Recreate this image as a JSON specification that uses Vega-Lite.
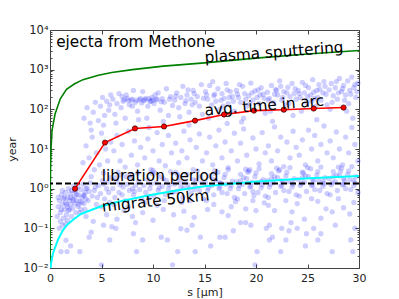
{
"$schema":"https://vega.github.io/schema/vega-lite/v6.json",
"width":309,"height":238,
"autosize":{"type":"none"},
"padding":{"left":50,"top":30,"right":40,"bottom":31},
"config":{"view":{"stroke":"#444","strokeWidth":1},"axis":{"labelFont":"DejaVu Sans","titleFont":"DejaVu Sans","labelFontSize":11,"titleFontSize":11,"labelColor":"#222","titleColor":"#222","titleFontWeight":"normal","grid":false,"domain":false,"tickColor":"#444"},"text":{"font":"DejaVu Sans","fontSize":15.3,"color":"#000"}},
"datasets":{
"pts":[
{"s":0.8,"t":0.35},{"s":0.9,"t":0.5},{"s":1.0,"t":0.25},{"s":1.1,"t":0.7},{"s":1.2,"t":0.4},{"s":1.3,"t":0.18},{"s":1.3,"t":0.55},{"s":1.4,"t":0.3},{"s":1.5,"t":0.8},{"s":1.5,"t":0.45},{"s":1.6,"t":0.22},{"s":1.7,"t":0.6},{"s":1.7,"t":0.35},{"s":1.8,"t":1.0},{"s":1.8,"t":0.28},{"s":1.9,"t":0.5},{"s":2.0,"t":0.75},{"s":2.0,"t":0.4},{"s":2.1,"t":0.2},{"s":2.1,"t":0.9},{"s":2.2,"t":0.55},{"s":2.2,"t":0.32},{"s":2.3,"t":1.2},{"s":2.4,"t":0.65},{"s":2.4,"t":0.42},{"s":2.5,"t":0.25},{"s":2.5,"t":0.85},{"s":2.6,"t":0.5},{"s":2.7,"t":1.1},{"s":2.7,"t":0.36},{"s":2.8,"t":0.7},{"s":2.9,"t":0.48},{"s":3.0,"t":0.95},{"s":3.0,"t":0.3},{"s":3.1,"t":0.6},{"s":3.2,"t":1.3},{"s":3.3,"t":0.42},{"s":3.4,"t":0.8},{"s":3.5,"t":0.55},{"s":3.6,"t":1.05},{"s":1.0,"t":0.15},{"s":1.2,"t":0.12},{"s":0.9,"t":0.1},{"s":1.5,"t":0.13},
{"s":0.7,"t":0.2},{"s":1.1,"t":0.3},{"s":1.4,"t":0.6},{"s":1.6,"t":0.4},{"s":1.9,"t":0.3},{"s":2.3,"t":0.5},{"s":2.6,"t":0.7},{"s":2.8,"t":0.4},{"s":1.2,"t":0.9},{"s":2.0,"t":0.6},{"s":2.4,"t":0.9},{"s":1.7,"t":0.16},{"s":2.9,"t":0.25},{"s":3.3,"t":0.65},{"s":0.8,"t":0.6},
{"s":1.07,"t":0.026},{"s":1.65,"t":0.026},{"s":2.9,"t":0.026},{"s":8.4,"t":0.026},{"s":5.0,"t":0.012},{"s":11.9,"t":0.012},{"s":12.4,"t":0.026},{"s":14.1,"t":0.026},{"s":9.0,"t":0.051},{"s":10.8,"t":0.06},{"s":11.4,"t":0.051},{"s":14.6,"t":0.06},{"s":8.1,"t":0.073},{"s":5.8,"t":0.051},{"s":5.2,"t":0.12},{"s":3.8,"t":0.06},{"s":2.0,"t":0.036},{"s":1.55,"t":0.05},{"s":8.3,"t":0.14},{"s":12.7,"t":0.098},{"s":15.6,"t":0.036},{"s":16.5,"t":0.06},{"s":17.0,"t":0.06},{"s":17.8,"t":0.087},{"s":19.5,"t":0.12},{"s":20.1,"t":0.026},{"s":19.9,"t":0.012},{"s":21.0,"t":0.1},{"s":21.3,"t":0.12},{"s":21.3,"t":0.051},{"s":21.6,"t":0.06},{"s":22.4,"t":0.026},{"s":22.5,"t":0.1},{"s":22.9,"t":0.051},{"s":23.2,"t":0.087},{"s":24.0,"t":0.1},{"s":24.9,"t":0.073},{"s":24.8,"t":0.036},{"s":25.6,"t":0.1},{"s":26.0,"t":0.051},{"s":26.3,"t":0.073},{"s":27.4,"t":0.026},{"s":27.7,"t":0.12},{"s":29.2,"t":0.051},{"s":29.4,"t":0.026},{"s":29.6,"t":0.1},{"s":18.5,"t":0.14},{"s":19.0,"t":0.14},{"s":6.0,"t":0.11},{"s":6.4,"t":0.1},{"s":4.0,"t":0.08},{"s":13.3,"t":0.09},{"s":13.8,"t":0.12},
{"s":15.3,"t":0.3},{"s":16.7,"t":0.26},{"s":17.3,"t":0.21},{"s":18.0,"t":0.47},{"s":19.0,"t":0.31},{"s":19.7,"t":0.5},{"s":20.0,"t":0.28},{"s":21.8,"t":0.28},{"s":20.8,"t":0.44},{"s":22.9,"t":0.5},{"s":24.7,"t":0.17},{"s":23.5,"t":0.26},{"s":26.3,"t":0.18},{"s":26.8,"t":0.31},{"s":27.4,"t":0.26},{"s":28.0,"t":0.56},{"s":28.5,"t":0.33},{"s":29.1,"t":0.23},{"s":23.4,"t":0.14},{"s":25.4,"t":0.56},{"s":19.8,"t":0.67},{"s":3.5,"t":0.2},{"s":4.2,"t":0.15},{"s":5.5,"t":0.22},{"s":6.5,"t":0.17},{"s":7.2,"t":0.28},{"s":8.0,"t":0.2},{"s":9.0,"t":0.25},{"s":10.0,"t":0.16},{"s":11.0,"t":0.3},{"s":12.0,"t":0.22},{"s":13.0,"t":0.27},{"s":14.0,"t":0.19},{"s":15.9,"t":0.4},{"s":17.6,"t":0.35},{"s":21.2,"t":0.38},{"s":24.0,"t":0.42},{"s":26.0,"t":0.48},{"s":29.5,"t":0.45},
{"s":3.3,"t":60},{"s":3.6,"t":110},{"s":3.9,"t":45},{"s":4.2,"t":85},{"s":4.4,"t":150},{"s":4.7,"t":52},{"s":4.9,"t":120},{"s":5.1,"t":200},{"s":5.3,"t":70},{"s":5.5,"t":160},{"s":5.7,"t":95},{"s":5.9,"t":230},{"s":5.2,"t":40},{"s":4.0,"t":30},{"s":5.8,"t":130},
{"s":6.1,"t":180},{"s":6.3,"t":75},{"s":6.5,"t":140},{"s":6.7,"t":250},{"s":6.9,"t":110},{"s":7.1,"t":160},{"s":7.3,"t":60},{"s":7.5,"t":190},{"s":7.7,"t":130},{"s":7.9,"t":170},{"s":8.1,"t":300},{"s":8.3,"t":150},{"s":8.5,"t":90},{"s":8.7,"t":175},{"s":8.9,"t":145},{"s":6.4,"t":45},{"s":7.0,"t":210},{"s":8.0,"t":120},{"s":8.6,"t":55},{"s":7.4,"t":230},
{"s":7.6,"t":165},{"s":8.0,"t":180},{"s":8.4,"t":170},{"s":8.8,"t":190},{"s":9.2,"t":175},{"s":9.6,"t":185},{"s":10.0,"t":170},{"s":10.4,"t":180},{"s":7.2,"t":175},{"s":9.8,"t":160},
{"s":9.1,"t":165},{"s":9.3,"t":190},{"s":9.5,"t":120},{"s":9.7,"t":160},{"s":9.9,"t":200},{"s":10.1,"t":140},{"s":10.3,"t":175},{"s":10.5,"t":260},{"s":10.7,"t":95},{"s":10.9,"t":185},{"s":11.1,"t":150},{"s":11.3,"t":330},{"s":11.5,"t":70},{"s":11.7,"t":210},{"s":11.9,"t":125},{"s":9.4,"t":60},{"s":10.2,"t":230},{"s":10.8,"t":155},{"s":11.6,"t":180},{"s":9.0,"t":280},{"s":11.0,"t":50},
{"s":12.1,"t":170},{"s":12.3,"t":260},{"s":12.5,"t":110},{"s":12.7,"t":200},{"s":12.9,"t":380},{"s":13.1,"t":140},{"s":13.3,"t":230},{"s":13.5,"t":85},{"s":13.7,"t":180},{"s":13.9,"t":300},{"s":14.1,"t":150},{"s":14.3,"t":210},{"s":14.5,"t":120},{"s":14.7,"t":420},{"s":14.9,"t":190},{"s":12.6,"t":65},{"s":13.2,"t":165},{"s":14.0,"t":250},{"s":14.8,"t":75},{"s":13.8,"t":130},{"s":12.2,"t":215},{"s":13.4,"t":310},
{"s":15.1,"t":280},{"s":15.3,"t":180},{"s":15.5,"t":400},{"s":15.7,"t":130},{"s":15.9,"t":220},{"s":16.1,"t":160},{"s":16.3,"t":330},{"s":16.5,"t":100},{"s":16.7,"t":250},{"s":16.9,"t":190},{"s":17.1,"t":450},{"s":17.3,"t":140},{"s":17.5,"t":280},{"s":17.7,"t":210},{"s":17.9,"t":90},{"s":15.4,"t":60},{"s":16.0,"t":240},{"s":16.6,"t":170},{"s":17.2,"t":310},{"s":17.8,"t":160},{"s":15.8,"t":500},{"s":16.8,"t":120},{"s":15.2,"t":230},{"s":17.4,"t":200},
{"s":18.1,"t":300},{"s":18.3,"t":200},{"s":18.5,"t":150},{"s":18.7,"t":380},{"s":18.9,"t":250},{"s":19.1,"t":120},{"s":19.3,"t":220},{"s":19.5,"t":460},{"s":19.7,"t":170},{"s":19.9,"t":290},{"s":20.1,"t":200},{"s":20.3,"t":140},{"s":20.5,"t":350},{"s":20.7,"t":240},{"s":20.9,"t":80},{"s":18.4,"t":420},{"s":19.0,"t":180},{"s":19.6,"t":260},{"s":20.2,"t":310},{"s":20.8,"t":190},{"s":18.8,"t":60},{"s":19.4,"t":140},{"s":20.4,"t":230},{"s":18.2,"t":240},
{"s":21.1,"t":270},{"s":21.3,"t":190},{"s":21.5,"t":400},{"s":21.7,"t":150},{"s":21.9,"t":320},{"s":22.1,"t":230},{"s":22.3,"t":520},{"s":22.5,"t":170},{"s":22.7,"t":280},{"s":22.9,"t":130},{"s":23.1,"t":360},{"s":23.3,"t":210},{"s":23.5,"t":450},{"s":23.7,"t":250},{"s":23.9,"t":180},{"s":21.4,"t":90},{"s":22.0,"t":300},{"s":22.6,"t":200},{"s":23.2,"t":140},{"s":23.8,"t":330},{"s":21.8,"t":240},{"s":22.4,"t":380},{"s":23.0,"t":260},{"s":21.2,"t":170},{"s":23.6,"t":70},
{"s":24.1,"t":300},{"s":24.3,"t":200},{"s":24.5,"t":480},{"s":24.7,"t":260},{"s":24.9,"t":150},{"s":25.1,"t":350},{"s":25.3,"t":230},{"s":25.5,"t":560},{"s":25.7,"t":190},{"s":25.9,"t":300},{"s":26.1,"t":420},{"s":26.3,"t":170},{"s":26.5,"t":260},{"s":26.7,"t":380},{"s":26.9,"t":130},{"s":24.4,"t":90},{"s":25.0,"t":210},{"s":25.6,"t":270},{"s":26.2,"t":320},{"s":26.8,"t":240},{"s":24.8,"t":400},{"s":25.4,"t":160},{"s":26.0,"t":200},{"s":26.6,"t":500},{"s":24.2,"t":250},{"s":25.8,"t":120},
{"s":27.1,"t":310},{"s":27.3,"t":450},{"s":27.5,"t":220},{"s":27.7,"t":350},{"s":27.9,"t":180},{"s":28.1,"t":600},{"s":28.3,"t":280},{"s":28.5,"t":400},{"s":28.7,"t":230},{"s":28.9,"t":520},{"s":29.1,"t":300},{"s":29.3,"t":650},{"s":29.5,"t":350},{"s":29.7,"t":200},{"s":29.9,"t":460},{"s":27.4,"t":150},{"s":28.0,"t":260},{"s":28.6,"t":170},{"s":29.2,"t":240},{"s":29.8,"t":280},{"s":27.8,"t":500},{"s":28.4,"t":330},{"s":29.0,"t":140},{"s":29.6,"t":420},{"s":27.2,"t":100},{"s":28.8,"t":90},
{"s":3.5,"t":12},{"s":3.8,"t":6},{"s":4.1,"t":20},{"s":4.5,"t":8},{"s":4.8,"t":4},{"s":5.0,"t":25},{"s":5.4,"t":10},{"s":5.6,"t":5},{"s":5.9,"t":15},{"s":3.2,"t":4.5},{"s":4.3,"t":3},{"s":5.2,"t":2.5},
{"s":6.2,"t":9},{"s":6.5,"t":22},{"s":6.8,"t":5},{"s":7.0,"t":13},{"s":7.3,"t":3.5},{"s":7.6,"t":28},{"s":7.9,"t":7},{"s":8.2,"t":16},{"s":8.5,"t":4},{"s":8.8,"t":11},{"s":6.6,"t":2.6},{"s":7.8,"t":2.2},
{"s":9.2,"t":6},{"s":9.5,"t":18},{"s":9.8,"t":3},{"s":10.0,"t":9},{"s":10.4,"t":26},{"s":10.6,"t":5},{"s":10.9,"t":13},{"s":11.2,"t":3.8},{"s":11.5,"t":22},{"s":11.8,"t":8},{"s":9.6,"t":35},{"s":10.2,"t":2.5},
{"s":12.2,"t":14},{"s":12.5,"t":4.5},{"s":12.8,"t":9},{"s":13.0,"t":28},{"s":13.3,"t":6},{"s":13.6,"t":17},{"s":13.9,"t":3},{"s":14.2,"t":11},{"s":14.5,"t":24},{"s":14.8,"t":5},{"s":12.4,"t":2.3},{"s":13.5,"t":40},
{"s":15.2,"t":8},{"s":15.5,"t":20},{"s":15.8,"t":4},{"s":16.1,"t":12},{"s":16.4,"t":30},{"s":16.7,"t":6},{"s":17.0,"t":15},{"s":17.3,"t":3.4},{"s":17.6,"t":9},{"s":17.9,"t":25},{"s":16.0,"t":2.4},{"s":17.2,"t":44},
{"s":18.2,"t":5},{"s":18.5,"t":14},{"s":18.8,"t":32},{"s":19.1,"t":7},{"s":19.4,"t":3},{"s":19.7,"t":19},{"s":20.0,"t":10},{"s":20.3,"t":4.2},{"s":20.6,"t":26},{"s":20.9,"t":8},{"s":19.2,"t":2.6},{"s":18.6,"t":48},
{"s":21.2,"t":12},{"s":21.5,"t":5},{"s":21.8,"t":36},{"s":22.1,"t":9},{"s":22.4,"t":20},{"s":22.7,"t":3.6},{"s":23.0,"t":15},{"s":23.3,"t":6},{"s":23.6,"t":28},{"s":23.9,"t":11},{"s":22.2,"t":2.8},{"s":21.6,"t":50},
{"s":24.2,"t":7},{"s":24.5,"t":17},{"s":24.8,"t":4},{"s":25.1,"t":30},{"s":25.4,"t":10},{"s":25.7,"t":22},{"s":26.0,"t":5},{"s":26.3,"t":13},{"s":26.6,"t":38},{"s":26.9,"t":8},{"s":24.6,"t":2.5},{"s":25.9,"t":55},
{"s":27.2,"t":16},{"s":27.5,"t":6},{"s":27.8,"t":27},{"s":28.1,"t":10},{"s":28.4,"t":4},{"s":28.7,"t":20},{"s":29.0,"t":8},{"s":29.3,"t":35},{"s":29.6,"t":13},{"s":29.9,"t":5},{"s":28.2,"t":2.7},{"s":29.4,"t":60},
{"s":3.1,"t":0.45},{"s":3.3,"t":0.7},{"s":3.5,"t":1.0},{"s":3.7,"t":0.5},{"s":3.9,"t":1.4},{"s":4.1,"t":0.65},{"s":4.3,"t":0.9},{"s":4.5,"t":0.4},{"s":4.7,"t":1.2},{"s":4.9,"t":0.75},{"s":5.1,"t":1.6},{"s":5.3,"t":0.55},{"s":5.5,"t":1.0},{"s":5.7,"t":0.8},{"s":5.9,"t":1.9},{"s":3.4,"t":0.3},{"s":4.0,"t":2.0},{"s":4.6,"t":0.6},{"s":5.2,"t":1.3},{"s":5.8,"t":0.45},{"s":3.8,"t":0.85},{"s":4.4,"t":1.1},{"s":5.0,"t":0.35},{"s":5.6,"t":1.45},
{"s":6.1,"t":1.0},{"s":6.3,"t":0.6},{"s":6.5,"t":1.5},{"s":6.7,"t":0.8},{"s":6.9,"t":2.2},{"s":7.1,"t":1.1},{"s":7.3,"t":0.5},{"s":7.5,"t":1.3},{"s":7.7,"t":0.9},{"s":7.9,"t":1.8},{"s":8.1,"t":0.7},{"s":8.3,"t":1.2},{"s":8.5,"t":2.5},{"s":8.7,"t":0.95},{"s":8.9,"t":0.55},{"s":6.2,"t":0.4},{"s":6.8,"t":1.25},{"s":7.4,"t":2.0},{"s":8.0,"t":1.0},{"s":8.6,"t":1.5},{"s":7.0,"t":0.7},{"s":7.6,"t":0.35},{"s":8.2,"t":0.85},{"s":6.4,"t":1.9},
{"s":9.1,"t":1.2},{"s":9.3,"t":0.8},{"s":9.5,"t":1.7},{"s":9.7,"t":1.0},{"s":9.9,"t":2.4},{"s":10.1,"t":0.65},{"s":10.3,"t":1.4},{"s":10.5,"t":0.9},{"s":10.7,"t":2.0},{"s":10.9,"t":1.15},{"s":11.1,"t":0.5},{"s":11.3,"t":1.6},{"s":11.5,"t":1.0},{"s":11.7,"t":2.7},{"s":11.9,"t":0.8},{"s":9.2,"t":0.45},{"s":9.8,"t":1.3},{"s":10.4,"t":0.38},{"s":11.0,"t":1.8},{"s":11.6,"t":1.25},{"s":10.0,"t":2.9},{"s":10.6,"t":1.05},{"s":11.2,"t":0.7},{"s":9.6,"t":0.6},
{"s":12.1,"t":1.3},{"s":12.3,"t":0.85},{"s":12.5,"t":1.9},{"s":12.7,"t":1.1},{"s":12.9,"t":0.6},{"s":13.1,"t":1.5},{"s":13.3,"t":2.3},{"s":13.5,"t":1.0},{"s":13.7,"t":0.75},{"s":13.9,"t":1.7},{"s":14.1,"t":1.2},{"s":14.3,"t":2.8},{"s":14.5,"t":0.9},{"s":14.7,"t":1.4},{"s":14.9,"t":0.55},{"s":12.2,"t":2.6},{"s":12.8,"t":0.45},{"s":13.4,"t":1.25},{"s":14.0,"t":0.95},{"s":14.6,"t":2.0},{"s":13.0,"t":1.05},{"s":13.6,"t":0.5},{"s":14.2,"t":1.6},{"s":12.6,"t":1.45},
{"s":15.1,"t":1.4},{"s":15.3,"t":0.9},{"s":15.5,"t":2.1},{"s":15.7,"t":1.2},{"s":15.9,"t":0.7},{"s":16.1,"t":1.6},{"s":16.3,"t":2.6},{"s":16.5,"t":1.1},{"s":16.7,"t":0.8},{"s":16.9,"t":1.9},{"s":17.1,"t":1.3},{"s":17.3,"t":3.0},{"s":17.5,"t":1.0},{"s":17.7,"t":1.55},{"s":17.9,"t":0.6},{"s":15.2,"t":0.5},{"s":15.8,"t":1.75},{"s":16.4,"t":1.0},{"s":17.0,"t":2.3},{"s":17.6,"t":1.2},{"s":16.0,"t":2.9},{"s":16.6,"t":1.35},{"s":17.2,"t":0.75},{"s":15.4,"t":1.05},
{"s":18.1,"t":1.5},{"s":18.3,"t":1.0},{"s":18.5,"t":2.3},{"s":18.7,"t":1.3},{"s":18.9,"t":0.75},{"s":19.1,"t":1.8},{"s":19.3,"t":2.8},{"s":19.5,"t":1.15},{"s":19.7,"t":0.85},{"s":19.9,"t":2.0},{"s":20.1,"t":1.4},{"s":20.3,"t":3.2},{"s":20.5,"t":1.05},{"s":20.7,"t":1.7},{"s":20.9,"t":0.65},{"s":18.2,"t":0.55},{"s":18.8,"t":1.9},{"s":19.4,"t":1.1},{"s":20.0,"t":2.5},{"s":20.6,"t":1.25},{"s":19.0,"t":3.1},{"s":19.6,"t":1.45},{"s":20.2,"t":0.8},{"s":18.4,"t":1.2},
{"s":21.1,"t":1.6},{"s":21.3,"t":1.1},{"s":21.5,"t":2.4},{"s":21.7,"t":1.4},{"s":21.9,"t":0.8},{"s":22.1,"t":1.9},{"s":22.3,"t":3.0},{"s":22.5,"t":1.2},{"s":22.7,"t":0.9},{"s":22.9,"t":2.1},{"s":23.1,"t":1.5},{"s":23.3,"t":3.4},{"s":23.5,"t":1.1},{"s":23.7,"t":1.8},{"s":23.9,"t":0.7},{"s":21.2,"t":0.6},{"s":21.8,"t":2.0},{"s":22.4,"t":1.15},{"s":23.0,"t":2.6},{"s":23.6,"t":1.3},{"s":22.0,"t":3.3},{"s":22.6,"t":1.5},{"s":23.2,"t":0.85},{"s":21.4,"t":1.3},
{"s":24.1,"t":1.7},{"s":24.3,"t":1.2},{"s":24.5,"t":2.6},{"s":24.7,"t":1.45},{"s":24.9,"t":0.85},{"s":25.1,"t":2.0},{"s":25.3,"t":3.2},{"s":25.5,"t":1.25},{"s":25.7,"t":0.95},{"s":25.9,"t":2.2},{"s":26.1,"t":1.6},{"s":26.3,"t":3.5},{"s":26.5,"t":1.15},{"s":26.7,"t":1.9},{"s":26.9,"t":0.75},{"s":24.2,"t":0.65},{"s":24.8,"t":2.1},{"s":25.4,"t":1.2},{"s":26.0,"t":2.7},{"s":26.6,"t":1.35},{"s":25.0,"t":3.4},{"s":25.6,"t":1.55},{"s":26.2,"t":0.9},{"s":24.4,"t":1.35},
{"s":27.1,"t":1.8},{"s":27.3,"t":1.25},{"s":27.5,"t":2.7},{"s":27.7,"t":1.5},{"s":27.9,"t":0.9},{"s":28.1,"t":2.1},{"s":28.3,"t":3.3},{"s":28.5,"t":1.3},{"s":28.7,"t":1.0},{"s":28.9,"t":2.3},{"s":29.1,"t":1.7},{"s":29.3,"t":3.6},{"s":29.5,"t":1.2},{"s":29.7,"t":2.0},{"s":29.9,"t":0.8},{"s":27.2,"t":0.7},{"s":27.8,"t":2.2},{"s":28.4,"t":1.25},{"s":29.0,"t":2.8},{"s":29.6,"t":1.4},{"s":28.0,"t":3.5},{"s":28.6,"t":1.6},{"s":29.2,"t":0.95},{"s":27.4,"t":1.4},
{"s":20.5,"t":1.5},{"s":21.5,"t":1.8},{"s":22.5,"t":1.6},{"s":23.5,"t":1.4},{"s":24.5,"t":1.9},{"s":25.5,"t":1.7},{"s":26.5,"t":1.5},{"s":27.5,"t":2.0},{"s":28.5,"t":1.8},{"s":29.5,"t":1.6},{"s":16.5,"t":1.4},{"s":18.5,"t":1.6}
],
"green":[{"s":0.005,"t":0.01},{"s":0.02,"t":0.5},{"s":0.05,"t":3},{"s":0.1,"t":10},{"s":0.2,"t":30},{"s":0.5,"t":78},{"s":1,"t":185},{"s":1.6,"t":320},{"s":2.4,"t":440},{"s":3.2,"t":560},{"s":4.7,"t":720},{"s":6,"t":850},{"s":8,"t":1000},{"s":11,"t":1230},{"s":15,"t":1480},{"s":20,"t":1950},{"s":25,"t":2480},{"s":30,"t":3050}],
"cyan":[{"s":0.05,"t":0.01},{"s":0.1,"t":0.013},{"s":0.3,"t":0.024},{"s":0.78,"t":0.052},{"s":1.26,"t":0.09},{"s":1.7,"t":0.125},{"s":2.3,"t":0.17},{"s":3,"t":0.23},{"s":4.7,"t":0.34},{"s":6.3,"t":0.45},{"s":9.5,"t":0.67},{"s":12.7,"t":0.94},{"s":15,"t":1.15},{"s":19.8,"t":1.5},{"s":24.7,"t":1.8},{"s":30,"t":2.1}],
"red":[{"s":2.43,"t":1.0},{"s":5.34,"t":14.5},{"s":8.25,"t":33},{"s":11.07,"t":37},{"s":14.08,"t":52},{"s":16.9,"t":74},{"s":19.8,"t":93},{"s":22.7,"t":98},{"s":25.6,"t":105},{"s":28.5,"t":111}]
},
"resolve":{"axis":{"x":"independent","y":"independent"}},
"layer":[
{"data":{"name":"pts"},"mark":{"type":"circle","color":"#0000ff","opacity":0.19,"size":28},
"encoding":{
"x":{"field":"s","type":"quantitative","scale":{"domain":[0,30],"nice":false,"zero":false},"axis":{"orient":"bottom","values":[0,5,10,15,20,25,30],"tickSize":-4,"labelPadding":8,"title":"s [μm]","titlePadding":3,"labelFlush":false}},
"y":{"field":"t","type":"quantitative","scale":{"type":"log","domain":[0.01,10000],"nice":false},"axis":{"orient":"left","values":[0.01,0.1,1,10,100,1000,10000],"tickSize":-4,"labelPadding":6,"labelFontSize":11.5,"title":"year","titlePadding":5,"labelFlush":false,"labelExpr":"datum.value==0.01?'10⁻²':datum.value==0.1?'10⁻¹':datum.value==1?'10⁰':datum.value==10?'10¹':datum.value==100?'10²':datum.value==1000?'10³':'10⁴'"}}}},
{"data":{"name":"green"},"mark":{"type":"line","color":"#008000","strokeWidth":1.6,"clip":true},
"encoding":{
"x":{"field":"s","type":"quantitative","scale":{"domain":[0,30],"nice":false,"zero":false},"axis":{"orient":"top","values":[0,5,10,15,20,25,30],"tickSize":-4,"labels":false,"title":null}},
"y":{"field":"t","type":"quantitative","scale":{"type":"log","domain":[0.01,10000],"nice":false},"axis":{"orient":"right","values":[0.01,0.1,1,10,100,1000,10000],"tickSize":-4,"labels":false,"title":null}}}},
{"data":{"name":"cyan"},"mark":{"type":"line","color":"#00ffff","strokeWidth":2,"clip":true},
"encoding":{
"x":{"field":"s","type":"quantitative","scale":{"domain":[0,30],"nice":false,"zero":false},"axis":null},
"y":{"field":"t","type":"quantitative","scale":{"type":"log","domain":[0.01,10000],"nice":false},"axis":{"orient":"left","values":[0.02,0.03,0.04,0.05,0.06,0.07,0.08,0.09,0.2,0.3,0.4,0.5,0.6,0.7,0.8,0.9,2,3,4,5,6,7,8,9,20,30,40,50,60,70,80,90,200,300,400,500,600,700,800,900,2000,3000,4000,5000,6000,7000,8000,9000],"tickSize":-2,"labels":false,"title":null}}}},
{"data":{"values":[{"t":1.34}]},"mark":{"type":"rule","color":"#000","strokeWidth":2,"strokeDash":[6,3]},
"encoding":{
"y":{"field":"t","type":"quantitative","scale":{"type":"log","domain":[0.01,10000],"nice":false},"axis":{"orient":"right","values":[0.02,0.03,0.04,0.05,0.06,0.07,0.08,0.09,0.2,0.3,0.4,0.5,0.6,0.7,0.8,0.9,2,3,4,5,6,7,8,9,20,30,40,50,60,70,80,90,200,300,400,500,600,700,800,900,2000,3000,4000,5000,6000,7000,8000,9000],"tickSize":-2,"labels":false,"title":null}}}},
{"data":{"name":"red"},"mark":{"type":"line","color":"#ff0000","strokeWidth":1.6},
"encoding":{
"x":{"field":"s","type":"quantitative","scale":{"domain":[0,30],"nice":false,"zero":false},"axis":null},
"y":{"field":"t","type":"quantitative","scale":{"type":"log","domain":[0.01,10000],"nice":false},"axis":null}}},
{"data":{"name":"red"},"mark":{"type":"point","shape":"circle","filled":true,"color":"#ff0000","stroke":"#000","strokeWidth":0.6,"size":28,"opacity":1},
"encoding":{
"x":{"field":"s","type":"quantitative","scale":{"domain":[0,30],"nice":false,"zero":false},"axis":null},
"y":{"field":"t","type":"quantitative","scale":{"type":"log","domain":[0.01,10000],"nice":false},"axis":null}}},
{"data":{"values":[{"s":0.6,"t":3630,"label":"ejecta from Methone"}]},"mark":{"type":"text","align":"left","baseline":"alphabetic"},
"encoding":{"x":{"field":"s","type":"quantitative","axis":null},"y":{"field":"t","type":"quantitative","scale":{"type":"log"},"axis":null},"text":{"field":"label"}}},
{"data":{"values":[{"s":15.05,"t":1515,"label":"plasma sputtering"}]},"mark":{"type":"text","align":"left","baseline":"alphabetic","angle":-4.3},
"encoding":{"x":{"field":"s","type":"quantitative","axis":null},"y":{"field":"t","type":"quantitative","scale":{"type":"log"},"axis":null},"text":{"field":"label"}}},
{"data":{"values":[{"s":15.05,"t":70,"label":"avg. time in arc"}]},"mark":{"type":"text","align":"left","baseline":"alphabetic","angle":-4.8},
"encoding":{"x":{"field":"s","type":"quantitative","axis":null},"y":{"field":"t","type":"quantitative","scale":{"type":"log"},"axis":null},"text":{"field":"label"}}},
{"data":{"values":[{"s":5.02,"t":1.6,"label":"libration period"}]},"mark":{"type":"text","align":"left","baseline":"alphabetic"},
"encoding":{"x":{"field":"s","type":"quantitative","axis":null},"y":{"field":"t","type":"quantitative","scale":{"type":"log"},"axis":null},"text":{"field":"label"}}},
{"data":{"values":[{"s":5.1,"t":0.26,"label":"migrate 50km"}]},"mark":{"type":"text","align":"left","baseline":"alphabetic","angle":-6.3},
"encoding":{"x":{"field":"s","type":"quantitative","axis":null},"y":{"field":"t","type":"quantitative","scale":{"type":"log"},"axis":null},"text":{"field":"label"}}}
]
}
